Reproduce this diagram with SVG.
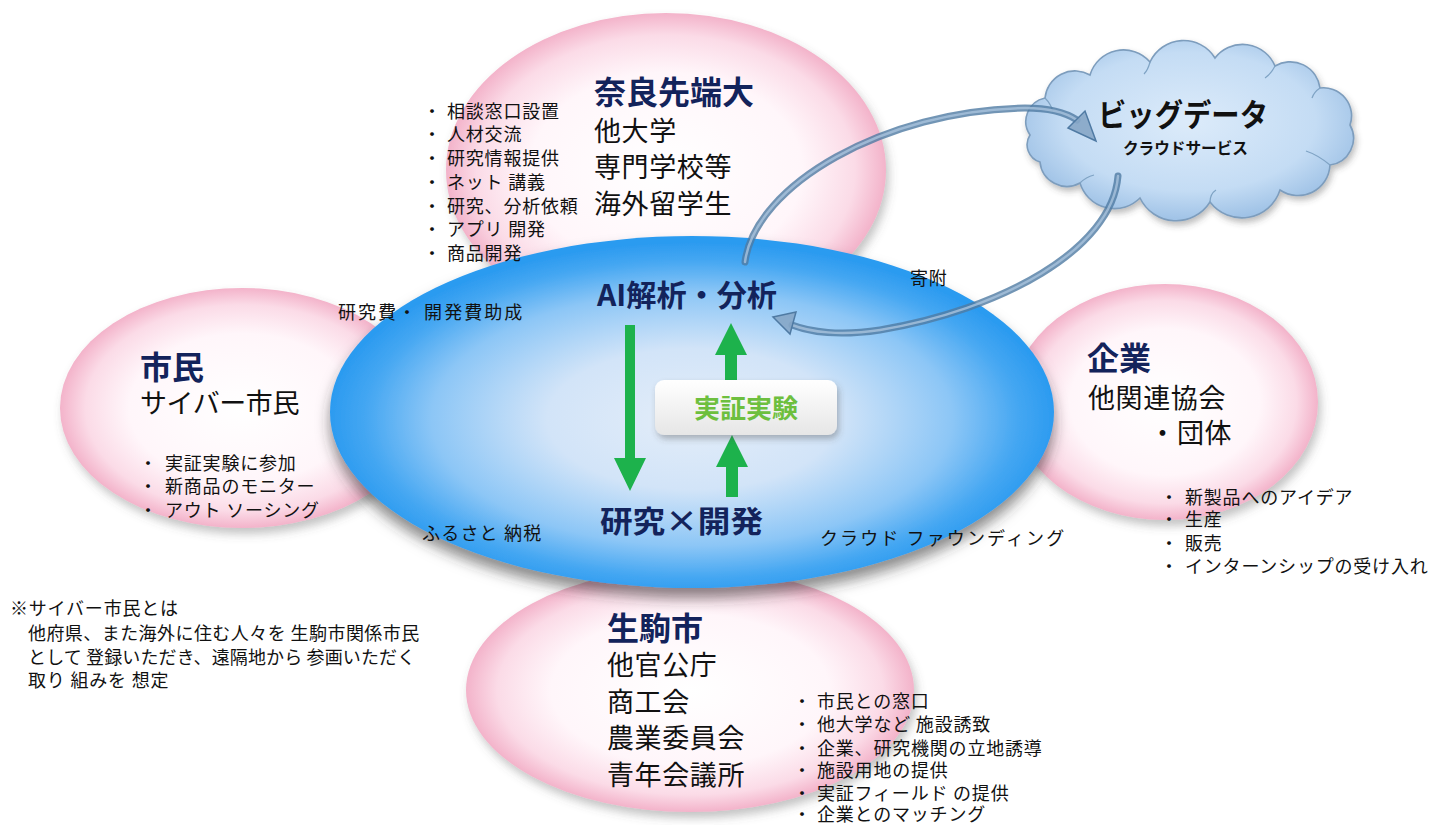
<svg xmlns="http://www.w3.org/2000/svg" width="1434" height="825" viewBox="0 0 1434 825">
<defs>
<style>
.t{font-family:"Noto Sans CJK JP","Noto Sans",sans-serif;fill:#111;}
.s{font-size:18px;letter-spacing:0.8px;}
.h{font-size:32px;font-weight:bold;fill:#13235b;}
.m{font-size:27px;letter-spacing:0.6px;}
.c{font-size:30px;font-weight:bold;fill:#13235b;}
.pink{fill:url(#gPink);filter:url(#shPink);}
.arc{fill:none;stroke:#4f7aa3;stroke-width:7;stroke-opacity:0.8;stroke-linecap:round;}
.arcHi{fill:none;stroke:#a9c3dd;stroke-width:2.5;stroke-opacity:0.8;stroke-linecap:round;}
.head{fill:#86a6c6;stroke:#4f7aa3;stroke-width:1.5;fill-opacity:0.9;}
.green{fill:#1db24c;}
</style>
<radialGradient id="gPink" cx="0.5" cy="0.5" r="0.5">
<stop offset="0" stop-color="#ffffff"/>
<stop offset="0.62" stop-color="#fff6fa"/>
<stop offset="0.86" stop-color="#fbdbe7"/>
<stop offset="1" stop-color="#f3b3ca"/>
</radialGradient>
<radialGradient id="gBlue" cx="0.5" cy="0.52" r="0.5">
<stop offset="0" stop-color="#e3edf9"/>
<stop offset="0.4" stop-color="#d2e4f8"/>
<stop offset="0.72" stop-color="#8cc6f6"/>
<stop offset="0.9" stop-color="#45a7f2"/>
<stop offset="1" stop-color="#2c9bf0"/>
</radialGradient>
<radialGradient id="gCloud" cx="0.5" cy="0.45" r="0.55">
<stop offset="0" stop-color="#dcebfa"/>
<stop offset="0.7" stop-color="#c4dcf4"/>
<stop offset="1" stop-color="#9fc2e6"/>
</radialGradient>
<linearGradient id="gBox" x1="0" y1="0" x2="0" y2="1">
<stop offset="0" stop-color="#ffffff"/>
<stop offset="1" stop-color="#e6e6e6"/>
</linearGradient>
<filter id="shPink" x="-10%" y="-10%" width="125%" height="130%">
<feDropShadow dx="3" dy="6" stdDeviation="5" flood-color="#555" flood-opacity="0.35"/>
</filter>
<filter id="shBlue" x="-10%" y="-10%" width="125%" height="135%">
<feDropShadow dx="0" dy="10" stdDeviation="7" flood-color="#333" flood-opacity="0.55"/>
</filter>
<filter id="shSoft" x="-10%" y="-10%" width="125%" height="135%">
<feDropShadow dx="2" dy="4" stdDeviation="3" flood-color="#444" flood-opacity="0.35"/>
</filter>
</defs>

<rect width="1434" height="825" fill="#ffffff"/>

<!-- pink nodes (background shapes) -->
<g id="node-nara-shape"><ellipse class="pink" cx="666" cy="170" rx="220" ry="157"/></g>
<g id="node-citizen-shape"><ellipse class="pink" cx="242" cy="408" rx="182" ry="120"/></g>
<g id="node-company-shape"><ellipse class="pink" cx="1165" cy="402" rx="153" ry="118"/></g>
<g id="node-ikoma-shape"><ellipse class="pink" cx="690" cy="690" rx="224" ry="122"/></g>

<!-- central node -->
<g id="node-center">
<ellipse cx="692" cy="412" rx="362" ry="176" fill="url(#gBlue)" filter="url(#shBlue)"/>
</g>

<!-- cloud node -->
<g id="node-cloud">
<path d="M1030,135 A24,24 0 0 1 1045,98 A30,30 0 0 1 1090,75 A35,35 0 0 1 1150,62 A37,37 0 0 1 1215,58 A35,35 0 0 1 1275,66 A30,30 0 0 1 1320,88 A28,28 0 0 1 1350,125 A27,27 0 0 1 1330,165 A32,32 0 0 1 1280,190 A40,40 0 0 1 1210,202 A40,40 0 0 1 1140,198 A36,36 0 0 1 1080,183 A27,27 0 0 1 1040,162 A18,18 0 0 1 1030,135 Z" fill="url(#gCloud)" stroke="#7d9dbd" stroke-width="1.6" filter="url(#shSoft)"/>
<path d="M1045,98 q6,6 8,14" fill="none" stroke="#7fa3c4" stroke-width="1.2"/>
<path d="M1150,62 q-2,8 -6,12" fill="none" stroke="#7fa3c4" stroke-width="1.2"/>
<path d="M1275,66 q-4,8 -10,12" fill="none" stroke="#7fa3c4" stroke-width="1.2"/>
<path d="M1320,88 q-6,4 -8,10" fill="none" stroke="#7fa3c4" stroke-width="1.2"/>
<path d="M1330,165 q-12,-10 -24,-14" fill="none" stroke="#7fa3c4" stroke-width="1.2"/>
<path d="M1210,202 q0,-8 6,-12" fill="none" stroke="#7fa3c4" stroke-width="1.2"/>
<path d="M1080,183 q6,-6 14,-8" fill="none" stroke="#7fa3c4" stroke-width="1.2"/>
<text class="t" x="1098" y="126" font-size="31" font-weight="bold" textLength="170" lengthAdjust="spacingAndGlyphs">ビッグデータ</text>
<text class="t" x="1123" y="154" font-size="16" font-weight="bold" textLength="125" lengthAdjust="spacingAndGlyphs">クラウドサービス</text>
</g>

<!-- connectors -->
<g id="connectors">
<path class="arc" d="M745,262 C755,185 885,110 1025,108 C1050,108 1065,112 1077,120"/>
<path class="arcHi" d="M745,262 C755,185 885,110 1025,108 C1050,108 1065,112 1077,120"/>
<polygon class="head" points="1096,141 1085,111 1068,128"/>
<path class="arc" d="M1118,176 C1112,250 1000,310 880,330 C840,336 810,332 792,325"/>
<path class="arcHi" d="M1118,176 C1112,250 1000,310 880,330 C840,336 810,332 792,325"/>
<polygon class="head" points="773,317 796,312 790,334"/>
<polygon class="green" points="625,325 635,325 635,458 646,458 630,491 614,458 625,458"/>
<polygon class="green" points="731,323 747,355 737,355 737,381 725,381 725,355 715,355"/>
<polygon class="green" points="732,435 748,467 738,467 738,497 726,497 726,467 716,467"/>
</g>

<!-- experiment box node -->
<g id="node-experiment">
<rect x="655" y="380" width="182" height="55" rx="9" fill="url(#gBox)" filter="url(#shSoft)"/>
<text class="t" x="746" y="418" font-size="26" font-weight="bold" text-anchor="middle" style="fill:#6dbf3e">実証実験</text>
</g>

<!-- center texts -->
<g id="node-center-text">
<text class="t c" x="597" y="306" textLength="180" lengthAdjust="spacingAndGlyphs">AI解析・分析</text>
<text class="t c" x="600" y="532" textLength="163" lengthAdjust="spacingAndGlyphs">研究×開発</text>
</g>

<!-- Nara node text -->
<g id="node-nara">
<text class="t h" x="594" y="104">奈良先端大</text>
<text class="t m" x="594" y="141">他大学</text>
<text class="t m" x="594" y="177">専門学校等</text>
<text class="t m" x="594" y="214">海外留学生</text>
<text class="t s"><tspan x="423" y="118">・</tspan><tspan x="447" y="118">相談窓口設置</tspan></text>
<text class="t s"><tspan x="423" y="141">・</tspan><tspan x="447" y="141">人材交流</tspan></text>
<text class="t s"><tspan x="423" y="165">・</tspan><tspan x="447" y="165">研究情報提供</tspan></text>
<text class="t s"><tspan x="423" y="189">・</tspan><tspan x="447" y="189">ネット 講義</tspan></text>
<text class="t s"><tspan x="423" y="213">・</tspan><tspan x="447" y="213">研究、分析依頼</tspan></text>
<text class="t s"><tspan x="423" y="236">・</tspan><tspan x="447" y="236">アプリ 開発</tspan></text>
<text class="t s"><tspan x="423" y="260">・</tspan><tspan x="447" y="260">商品開発</tspan></text>
</g>

<!-- Citizen node text -->
<g id="node-citizen">
<text class="t h" x="140" y="379">市民</text>
<text class="t m" x="140" y="413" textLength="160">サイバー市民</text>
<text class="t s"><tspan x="139" y="470">・</tspan><tspan x="165" y="470">実証実験に参加</tspan></text>
<text class="t s"><tspan x="139" y="493">・</tspan><tspan x="165" y="493">新商品のモニター</tspan></text>
<text class="t s"><tspan x="139" y="517">・</tspan><tspan x="165" y="517">アウト ソーシング</tspan></text>
</g>

<!-- Company node text -->
<g id="node-company">
<text class="t h" x="1087" y="370">企業</text>
<text class="t m" x="1088" y="408">他関連協会</text>
<text class="t m"><tspan x="1149" y="443">・</tspan><tspan x="1177" y="443">団体</tspan></text>
<text class="t s"><tspan x="1160" y="504">・</tspan><tspan x="1185" y="504">新製品へのアイデア</tspan></text>
<text class="t s"><tspan x="1160" y="526">・</tspan><tspan x="1185" y="526">生産</tspan></text>
<text class="t s"><tspan x="1160" y="550">・</tspan><tspan x="1185" y="550">販売</tspan></text>
<text class="t s"><tspan x="1160" y="573">・</tspan><tspan x="1185" y="573">インターンシップの受け入れ</tspan></text>
</g>

<!-- Ikoma node text -->
<g id="node-ikoma">
<text class="t h" x="607" y="640">生駒市</text>
<text class="t m" x="607" y="675">他官公庁</text>
<text class="t m" x="607" y="712">商工会</text>
<text class="t m" x="607" y="748">農業委員会</text>
<text class="t m" x="607" y="785">青年会議所</text>
<text class="t s"><tspan x="793" y="708">・</tspan><tspan x="817" y="708">市民との窓口</tspan></text>
<text class="t s"><tspan x="793" y="731">・</tspan><tspan x="817" y="731">他大学など 施設誘致</tspan></text>
<text class="t s"><tspan x="793" y="755">・</tspan><tspan x="817" y="755">企業、研究機関の立地誘導</tspan></text>
<text class="t s"><tspan x="793" y="777">・</tspan><tspan x="817" y="777">施設用地の提供</tspan></text>
<text class="t s"><tspan x="793" y="800">・</tspan><tspan x="817" y="800">実証フィールド の提供</tspan></text>
<text class="t s"><tspan x="793" y="821">・</tspan><tspan x="817" y="821">企業とのマッチング</tspan></text>
</g>

<!-- flow labels -->
<g id="labels">
<text class="t s" x="338" y="319" textLength="185">研究費・ 開発費助成</text>
<text class="t s" x="422" y="540" textLength="120">ふるさと 納税</text>
<text class="t s" x="910" y="285">寄附</text>
<text class="t s" x="820" y="545" textLength="245">クラウド ファウンディング</text>
</g>

<!-- note -->
<g id="note">
<text class="t s" x="10" y="615">※サイバー市民とは</text>
<text class="t s" x="28" y="640" textLength="392">他府県、また海外に住む人々を 生駒市関係市民</text>
<text class="t s" x="28" y="664" textLength="388">として 登録いただき、遠隔地から 参画いただく</text>
<text class="t s" x="28" y="687">取り 組みを 想定</text>
</g>
</svg>
